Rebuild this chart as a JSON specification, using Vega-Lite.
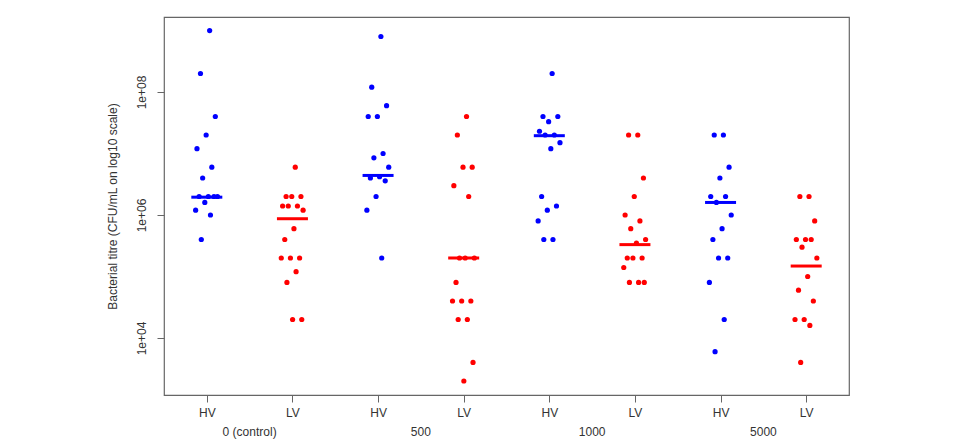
{
  "$schema": "https://vega.github.io/schema/vega-lite/v6.json",
  "width": 685,
  "height": 378,
  "autosize": "none",
  "padding": {"left": 164, "top": 17, "right": 112, "bottom": 49},
  "background": "white",
  "config": {
    "font": "Liberation Sans",
    "view": {"stroke": "#666666", "strokeWidth": 1.2},
    "axis": {"labelFontSize": 12, "labelColor": "#333333", "titleFontSize": 12, "titleColor": "#333333", "titleFontWeight": "normal", "tickColor": "#666666", "domain": false, "grid": false}
  },
  "datasets": {
    "points": [
      {"dose": "0 (control)", "virus": "HV", "titre": 1000000000},
      {"dose": "0 (control)", "virus": "HV", "titre": 200000000},
      {"dose": "0 (control)", "virus": "HV", "titre": 40000000},
      {"dose": "0 (control)", "virus": "HV", "titre": 20000000},
      {"dose": "0 (control)", "virus": "HV", "titre": 12000000},
      {"dose": "0 (control)", "virus": "HV", "titre": 6000000},
      {"dose": "0 (control)", "virus": "HV", "titre": 4000000},
      {"dose": "0 (control)", "virus": "HV", "titre": 2000000},
      {"dose": "0 (control)", "virus": "HV", "titre": 2000000},
      {"dose": "0 (control)", "virus": "HV", "titre": 2000000},
      {"dose": "0 (control)", "virus": "HV", "titre": 2000000},
      {"dose": "0 (control)", "virus": "HV", "titre": 1600000},
      {"dose": "0 (control)", "virus": "HV", "titre": 1200000},
      {"dose": "0 (control)", "virus": "HV", "titre": 1000000},
      {"dose": "0 (control)", "virus": "HV", "titre": 400000},

      {"dose": "0 (control)", "virus": "LV", "titre": 6000000},
      {"dose": "0 (control)", "virus": "LV", "titre": 2000000},
      {"dose": "0 (control)", "virus": "LV", "titre": 2000000},
      {"dose": "0 (control)", "virus": "LV", "titre": 2000000},
      {"dose": "0 (control)", "virus": "LV", "titre": 1400000},
      {"dose": "0 (control)", "virus": "LV", "titre": 1400000},
      {"dose": "0 (control)", "virus": "LV", "titre": 1400000},
      {"dose": "0 (control)", "virus": "LV", "titre": 1200000},
      {"dose": "0 (control)", "virus": "LV", "titre": 600000},
      {"dose": "0 (control)", "virus": "LV", "titre": 400000},
      {"dose": "0 (control)", "virus": "LV", "titre": 200000},
      {"dose": "0 (control)", "virus": "LV", "titre": 200000},
      {"dose": "0 (control)", "virus": "LV", "titre": 200000},
      {"dose": "0 (control)", "virus": "LV", "titre": 120000},
      {"dose": "0 (control)", "virus": "LV", "titre": 80000},
      {"dose": "0 (control)", "virus": "LV", "titre": 20000},
      {"dose": "0 (control)", "virus": "LV", "titre": 20000},

      {"dose": "500", "virus": "HV", "titre": 800000000},
      {"dose": "500", "virus": "HV", "titre": 120000000},
      {"dose": "500", "virus": "HV", "titre": 60000000},
      {"dose": "500", "virus": "HV", "titre": 40000000},
      {"dose": "500", "virus": "HV", "titre": 40000000},
      {"dose": "500", "virus": "HV", "titre": 10000000},
      {"dose": "500", "virus": "HV", "titre": 8500000},
      {"dose": "500", "virus": "HV", "titre": 6000000},
      {"dose": "500", "virus": "HV", "titre": 4200000},
      {"dose": "500", "virus": "HV", "titre": 4000000},
      {"dose": "500", "virus": "HV", "titre": 3600000},
      {"dose": "500", "virus": "HV", "titre": 2000000},
      {"dose": "500", "virus": "HV", "titre": 1200000},
      {"dose": "500", "virus": "HV", "titre": 200000},

      {"dose": "500", "virus": "LV", "titre": 40000000},
      {"dose": "500", "virus": "LV", "titre": 20000000},
      {"dose": "500", "virus": "LV", "titre": 6000000},
      {"dose": "500", "virus": "LV", "titre": 6000000},
      {"dose": "500", "virus": "LV", "titre": 3000000},
      {"dose": "500", "virus": "LV", "titre": 2000000},
      {"dose": "500", "virus": "LV", "titre": 200000},
      {"dose": "500", "virus": "LV", "titre": 200000},
      {"dose": "500", "virus": "LV", "titre": 200000},
      {"dose": "500", "virus": "LV", "titre": 80000},
      {"dose": "500", "virus": "LV", "titre": 40000},
      {"dose": "500", "virus": "LV", "titre": 40000},
      {"dose": "500", "virus": "LV", "titre": 40000},
      {"dose": "500", "virus": "LV", "titre": 20000},
      {"dose": "500", "virus": "LV", "titre": 20000},
      {"dose": "500", "virus": "LV", "titre": 4000},
      {"dose": "500", "virus": "LV", "titre": 2000},

      {"dose": "1000", "virus": "HV", "titre": 200000000},
      {"dose": "1000", "virus": "HV", "titre": 40000000},
      {"dose": "1000", "virus": "HV", "titre": 40000000},
      {"dose": "1000", "virus": "HV", "titre": 33000000},
      {"dose": "1000", "virus": "HV", "titre": 23000000},
      {"dose": "1000", "virus": "HV", "titre": 20000000},
      {"dose": "1000", "virus": "HV", "titre": 20000000},
      {"dose": "1000", "virus": "HV", "titre": 15000000},
      {"dose": "1000", "virus": "HV", "titre": 12000000},
      {"dose": "1000", "virus": "HV", "titre": 2000000},
      {"dose": "1000", "virus": "HV", "titre": 1400000},
      {"dose": "1000", "virus": "HV", "titre": 1200000},
      {"dose": "1000", "virus": "HV", "titre": 800000},
      {"dose": "1000", "virus": "HV", "titre": 400000},
      {"dose": "1000", "virus": "HV", "titre": 400000},

      {"dose": "1000", "virus": "LV", "titre": 20000000},
      {"dose": "1000", "virus": "LV", "titre": 20000000},
      {"dose": "1000", "virus": "LV", "titre": 4000000},
      {"dose": "1000", "virus": "LV", "titre": 2000000},
      {"dose": "1000", "virus": "LV", "titre": 1000000},
      {"dose": "1000", "virus": "LV", "titre": 800000},
      {"dose": "1000", "virus": "LV", "titre": 600000},
      {"dose": "1000", "virus": "LV", "titre": 400000},
      {"dose": "1000", "virus": "LV", "titre": 350000},
      {"dose": "1000", "virus": "LV", "titre": 200000},
      {"dose": "1000", "virus": "LV", "titre": 200000},
      {"dose": "1000", "virus": "LV", "titre": 200000},
      {"dose": "1000", "virus": "LV", "titre": 140000},
      {"dose": "1000", "virus": "LV", "titre": 80000},
      {"dose": "1000", "virus": "LV", "titre": 80000},
      {"dose": "1000", "virus": "LV", "titre": 80000},

      {"dose": "5000", "virus": "HV", "titre": 20000000},
      {"dose": "5000", "virus": "HV", "titre": 20000000},
      {"dose": "5000", "virus": "HV", "titre": 6000000},
      {"dose": "5000", "virus": "HV", "titre": 4000000},
      {"dose": "5000", "virus": "HV", "titre": 2000000},
      {"dose": "5000", "virus": "HV", "titre": 2000000},
      {"dose": "5000", "virus": "HV", "titre": 1600000},
      {"dose": "5000", "virus": "HV", "titre": 1000000},
      {"dose": "5000", "virus": "HV", "titre": 600000},
      {"dose": "5000", "virus": "HV", "titre": 400000},
      {"dose": "5000", "virus": "HV", "titre": 200000},
      {"dose": "5000", "virus": "HV", "titre": 200000},
      {"dose": "5000", "virus": "HV", "titre": 80000},
      {"dose": "5000", "virus": "HV", "titre": 20000},
      {"dose": "5000", "virus": "HV", "titre": 6000},

      {"dose": "5000", "virus": "LV", "titre": 2000000},
      {"dose": "5000", "virus": "LV", "titre": 2000000},
      {"dose": "5000", "virus": "LV", "titre": 800000},
      {"dose": "5000", "virus": "LV", "titre": 400000},
      {"dose": "5000", "virus": "LV", "titre": 400000},
      {"dose": "5000", "virus": "LV", "titre": 400000},
      {"dose": "5000", "virus": "LV", "titre": 300000},
      {"dose": "5000", "virus": "LV", "titre": 200000},
      {"dose": "5000", "virus": "LV", "titre": 100000},
      {"dose": "5000", "virus": "LV", "titre": 60000},
      {"dose": "5000", "virus": "LV", "titre": 40000},
      {"dose": "5000", "virus": "LV", "titre": 20000},
      {"dose": "5000", "virus": "LV", "titre": 20000},
      {"dose": "5000", "virus": "LV", "titre": 16000},
      {"dose": "5000", "virus": "LV", "titre": 4000}
    ],
    "medians": [
      {"dose": "0 (control)", "virus": "HV", "titre": 1950000},
      {"dose": "0 (control)", "virus": "LV", "titre": 870000},
      {"dose": "500", "virus": "HV", "titre": 4400000},
      {"dose": "500", "virus": "LV", "titre": 200000},
      {"dose": "1000", "virus": "HV", "titre": 19500000},
      {"dose": "1000", "virus": "LV", "titre": 330000},
      {"dose": "5000", "virus": "HV", "titre": 1600000},
      {"dose": "5000", "virus": "LV", "titre": 148000}
    ],
    "doses": [
      {"dose": "0 (control)"},
      {"dose": "500"},
      {"dose": "1000"},
      {"dose": "5000"}
    ]
  },
  "resolve": {"scale": {"x": "independent"}, "axis": {"x": "independent"}},
  "layer": [
    {
      "data": {"name": "doses"},
      "mark": {"type": "rule", "opacity": 0},
      "encoding": {
        "x": {
          "field": "dose", "type": "nominal", "sort": null,
          "scale": {"type": "band", "domain": ["0 (control)", "500", "1000", "5000"], "paddingInner": 0, "paddingOuter": 0},
          "axis": {"orient": "bottom", "title": null, "ticks": false, "tickSize": 0, "labelPadding": 31, "labelAngle": 0, "labelBaseline": "top"}
        }
      }
    },
    {
      "layer": [
        {
          "data": {"name": "points"},
          "transform": [
            {"calculate": "datum.virus + '|' + datum.dose", "as": "group"},
            {"window": [{"op": "row_number", "as": "idx"}], "groupby": ["group"]},
            {"calculate": "((datum.idx * 0.6180339887) % 1) - 0.5", "as": "jitter"}
          ],
          "mark": {"type": "circle", "size": 27, "opacity": 1},
          "encoding": {
            "x": {
              "field": "group", "type": "nominal",
              "scale": {"type": "point", "domain": ["HV|0 (control)", "LV|0 (control)", "HV|500", "LV|500", "HV|1000", "LV|1000", "HV|5000", "LV|5000"], "padding": 0.5},
              "axis": {"orient": "bottom", "title": null, "tickSize": 7, "labelPadding": 5, "labelAngle": 0, "labelBaseline": "top", "labelExpr": "split(datum.label, '|')[0]"}
            },
            "xOffset": {"field": "jitter", "type": "quantitative", "scale": {"domain": [-0.5, 0.5], "range": [-12, 12]}},
            "y": {
              "field": "titre", "type": "quantitative",
              "scale": {"type": "log", "domain": [1183, 1660000000], "nice": false, "zero": false},
              "axis": {"title": "Bacterial titre (CFU/mL on log10 scale)", "values": [10000, 1000000, 100000000], "tickSize": 7, "labelAngle": -90, "labelAlign": "center", "labelBaseline": "bottom", "labelPadding": 9, "titlePadding": 16, "labelExpr": "'1e+0' + round(log(datum.value) / LN10)"}
            },
            "color": {"field": "virus", "type": "nominal", "scale": {"domain": ["HV", "LV"], "range": ["#0000ff", "#ff0000"]}, "legend": null}
          }
        },
        {
          "data": {"name": "medians"},
          "transform": [
            {"calculate": "datum.virus + '|' + datum.dose", "as": "group"}
          ],
          "mark": {"type": "tick", "size": 31, "thickness": 3, "orient": "horizontal", "opacity": 1},
          "encoding": {
            "x": {"field": "group", "type": "nominal"},
            "y": {"field": "titre", "type": "quantitative"},
            "color": {"field": "virus", "type": "nominal", "legend": null}
          }
        }
      ]
    }
  ]
}
